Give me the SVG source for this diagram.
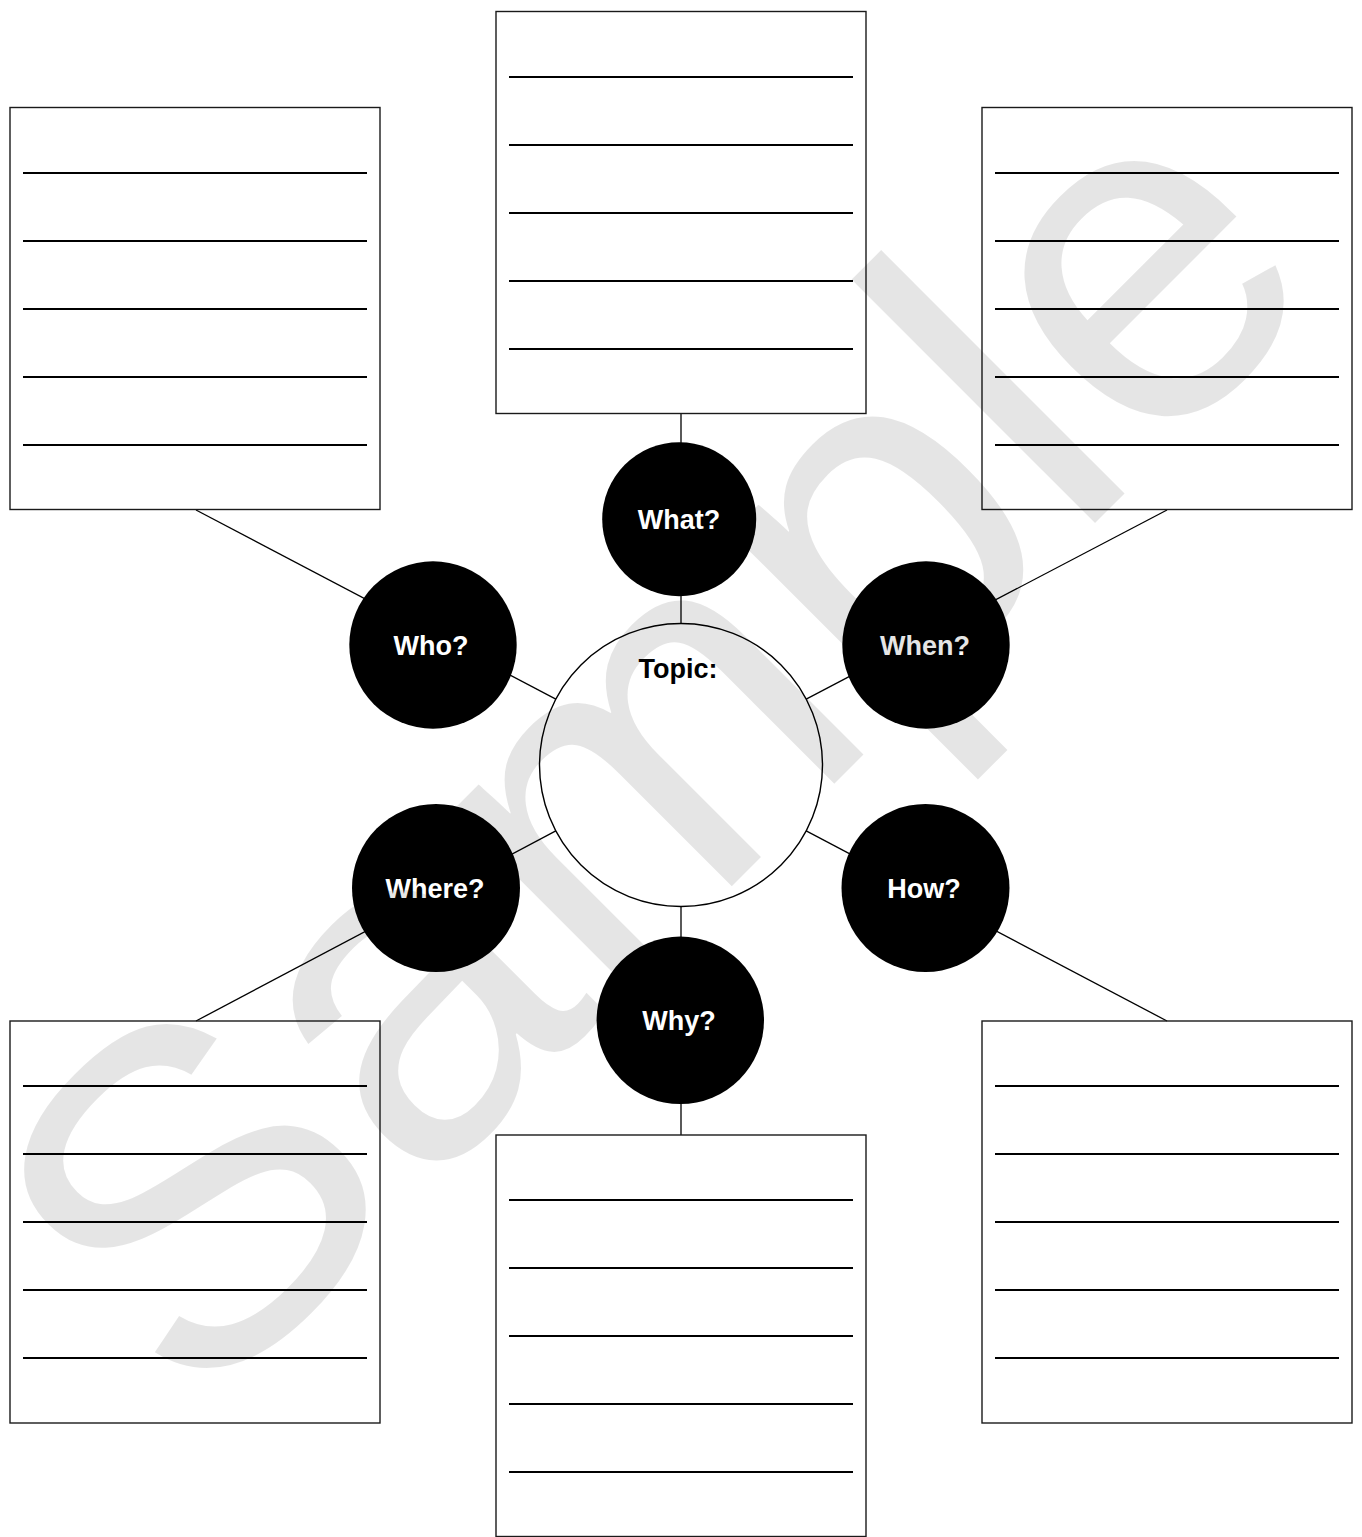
<svg xmlns="http://www.w3.org/2000/svg" width="1362" height="1537" viewBox="0 0 1362 1537">
  <style>
    .box { fill: none; stroke: #1a1a1a; stroke-width: 1.4; }
    .rule { stroke: #000; stroke-width: 2; }
    .conn { stroke: #000; stroke-width: 1.3; fill: none; }
    .q { fill: #000; }
    .qt { font-family: "Liberation Sans", Arial, sans-serif; font-weight: bold; font-size: 27px; fill: #fff; text-anchor: middle; }
    .topic { fill: none; stroke: #000; stroke-width: 1.4; }
    .tt { font-family: "Liberation Sans", Arial, sans-serif; font-weight: bold; font-size: 27px; fill: #000; text-anchor: middle; }
    .wm { font-family: "Liberation Sans", Arial, sans-serif; font-size: 475px; fill: #000; fill-opacity: 0.1; }
  </style>
  <defs>
    <g id="rules">
      <line class="rule" x1="13" y1="0" x2="357" y2="0"/>
      <line class="rule" x1="13" y1="68" x2="357" y2="68"/>
      <line class="rule" x1="13" y1="136" x2="357" y2="136"/>
      <line class="rule" x1="13" y1="204" x2="357" y2="204"/>
      <line class="rule" x1="13" y1="272" x2="357" y2="272"/>
    </g>
  </defs>
  <rect width="1362" height="1537" fill="#fff"/>

  <g id="connectors">
    <line class="conn" x1="681" y1="413" x2="681" y2="623.5"/>
    <line class="conn" x1="196" y1="510" x2="555.8" y2="699.1"/>
    <line class="conn" x1="1167" y1="510" x2="806.2" y2="699.1"/>
    <line class="conn" x1="196" y1="1021" x2="555.8" y2="830.9"/>
    <line class="conn" x1="1167" y1="1021" x2="806.2" y2="830.9"/>
    <line class="conn" x1="681" y1="1135" x2="681" y2="906.5"/>
  </g>

  <g id="box-what">
    <rect class="box" x="496" y="11.5" width="370" height="402"/>
    <use href="#rules" x="496" y="77"/>
  </g>
  <g id="box-who">
    <rect class="box" x="10" y="107.5" width="370" height="402"/>
    <use href="#rules" x="10" y="173"/>
  </g>
  <g id="box-when">
    <rect class="box" x="982" y="107.5" width="370" height="402"/>
    <use href="#rules" x="982" y="173"/>
  </g>
  <g id="box-where">
    <rect class="box" x="10" y="1021" width="370" height="402"/>
    <use href="#rules" x="10" y="1086"/>
  </g>
  <g id="box-how">
    <rect class="box" x="982" y="1021" width="370" height="402"/>
    <use href="#rules" x="982" y="1086"/>
  </g>
  <g id="box-why">
    <rect class="box" x="496" y="1135" width="370" height="401.5"/>
    <use href="#rules" x="496" y="1200"/>
  </g>

  <g id="topic">
    <circle class="topic" cx="681" cy="765" r="141.5"/>
    <text class="tt" x="678" y="678">Topic:</text>
  </g>
  <g id="what">
    <circle class="q" cx="679.2" cy="519.2" r="77"/>
    <text class="qt" x="679" y="529">What?</text>
  </g>
  <g id="who">
    <circle class="q" cx="433" cy="645" r="83.7"/>
    <text class="qt" x="431" y="654.5">Who?</text>
  </g>
  <g id="when">
    <circle class="q" cx="926" cy="645" r="83.7"/>
    <text class="qt" x="925" y="654.5">When?</text>
  </g>
  <g id="where">
    <circle class="q" cx="436" cy="888" r="84"/>
    <text class="qt" x="435" y="897.5">Where?</text>
  </g>
  <g id="how">
    <circle class="q" cx="925.5" cy="888" r="84"/>
    <text class="qt" x="924" y="897.5">How?</text>
  </g>
  <g id="why">
    <circle class="q" cx="680.3" cy="1020.3" r="83.7"/>
    <text class="qt" x="679" y="1030">Why?</text>
  </g>

  <g id="watermark">
    <text class="wm" transform="translate(195 1423) rotate(-45)" x="0" y="0">Sample</text>
  </g>
</svg>
